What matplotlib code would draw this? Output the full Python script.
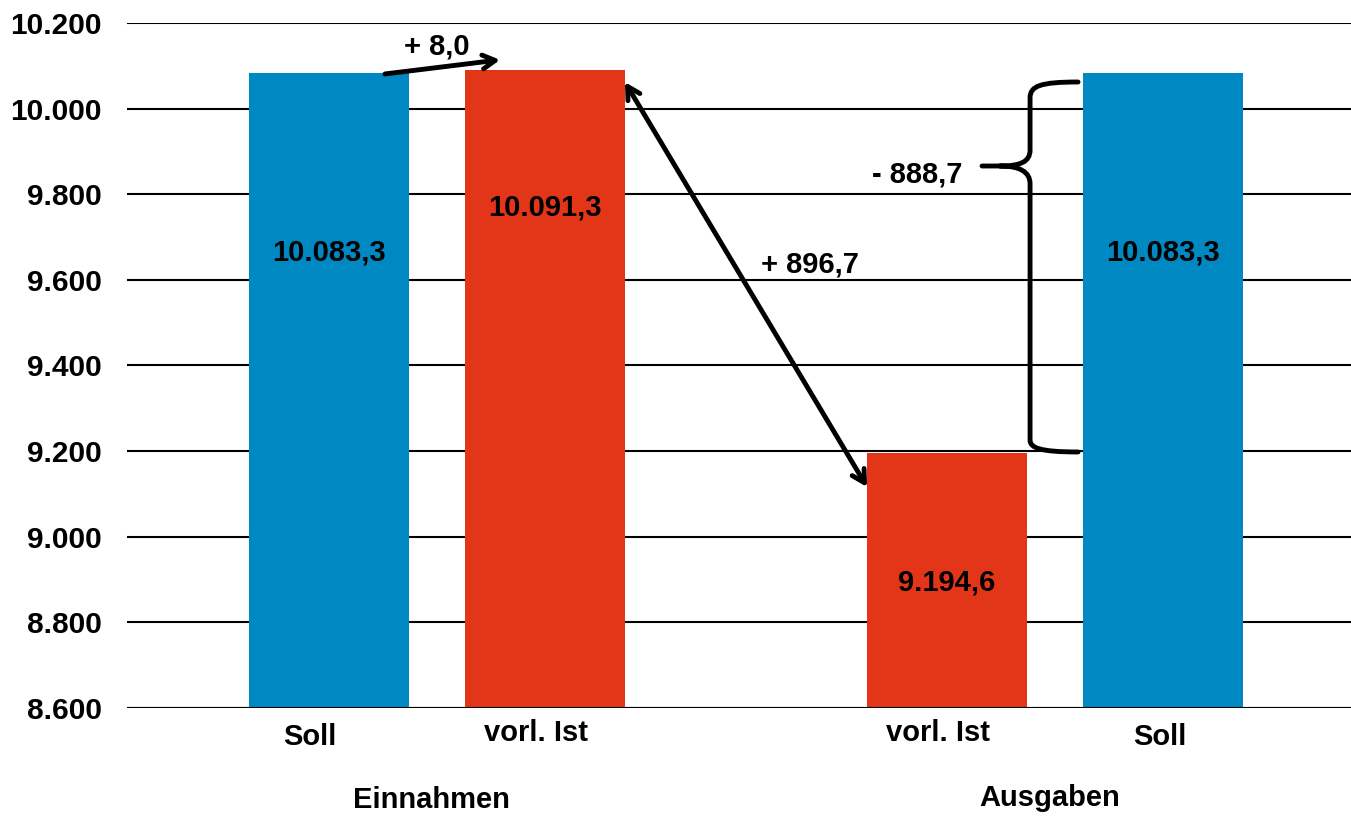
import matplotlib.pyplot as plt
import matplotlib.transforms as mtransforms
from matplotlib.path import Path
from matplotlib.patches import PathPatch
from matplotlib.ticker import FuncFormatter

plt.rcParams['font.family'] = ['Liberation Sans', 'DejaVu Sans']
plt.rcParams['font.weight'] = 'bold'

# data
bar_labels = ["Soll", "vorl. Ist", "vorl. Ist", "Soll"]
values = [10083.3, 10091.3, 9194.6, 10083.3]
value_texts = ["10.083,3", "10.091,3", "9.194,6", "10.083,3"]
groups = ["Einnahmen", "Ausgaben"]
diff_texts = ["+ 8,0", "+ 896,7", "- 888,7"]

blue = '#0088c2'
red = '#e33618'
colors = [blue, red, red, blue]
xpos = [0, 1, 2.861, 3.861]
label_y = [9665, 9770, 8894, 9665]
fs = 21

fig = plt.figure(figsize=(13.51, 8.16), dpi=100)
ax = fig.add_axes([0.094, 0.1324, 0.906, 0.8394])

ax.bar(xpos, [v - 8600 for v in values], bottom=8600, width=0.74, color=colors, zorder=2)
ax.set_xlim(-0.935, 4.731)
ax.set_ylim(8600, 10200)
ax.set_yticks(range(8600, 10201, 200))
ax.yaxis.set_major_formatter(FuncFormatter(lambda v, p: f"{int(v):,}".replace(",", ".")))
ax.tick_params(axis='y', length=0, pad=18, labelsize=21.5)
ax.set_xticks([])
ax.grid(axis='y', color='black', linewidth=1.5, zorder=1)
for s in ax.spines.values():
    s.set_visible(False)
ax.axhline(8600, color='black', linewidth=1.5, zorder=3)

for x, y, t in zip(xpos, label_y, value_texts):
    ax.text(x, y, t, ha='center', va='center', fontsize=fs, fontweight='bold', zorder=4)

# category labels below the axis
cat_dx = [-0.09, -0.04, -0.04, -0.015]
cat_fy = [0.0968, 0.1017, 0.1017, 0.0968]
trans = mtransforms.blended_transform_factory(ax.transData, fig.transFigure)
for x, dx, fy, t in zip(xpos, cat_dx, cat_fy, bar_labels):
    ax.text(x + dx, fy, t, ha='center', va='center', fontsize=fs, fontweight='bold', transform=trans)
fig.text(0.319, 0.0196, groups[0], ha='center', va='center', fontsize=fs, fontweight='bold')
fig.text(0.777, 0.022, groups[1], ha='center', va='center', fontsize=fs, fontweight='bold')

# + 8,0 arrow
ax.annotate("", xy=(0.792, 10114), xytext=(0.259, 10081),
            arrowprops=dict(arrowstyle='->,head_length=0.9,head_width=0.5', lw=3.5, color='black',
                            shrinkA=0, shrinkB=0), zorder=5)
ax.text(0.5, 10144, diff_texts[0], ha='center', va='center', fontsize=fs, fontweight='bold')

# + 896,7 double arrow
ax.annotate("", xy=(2.861 - 0.37, 9116), xytext=(1.37, 10062),
            arrowprops=dict(arrowstyle='<->,head_length=0.9,head_width=0.5', lw=3.5, color='black',
                            shrinkA=0, shrinkB=0), zorder=5)
ax.text(2.227, 9637, diff_texts[1], ha='center', va='center', fontsize=fs, fontweight='bold')

# brace for - 888,7
def px(x, y):
    return ((x - 329) / 216, 8600 + (708 - y) * 1600 / 685)

verts = [px(1078, 82), px(1040, 82), px(1030, 86), px(1030, 98),
         px(1030, 150),
         px(1030, 162), px(1020, 166), px(1000, 166),
         px(982, 166),
         px(1000, 166), px(1020, 166), px(1030, 172), px(1030, 184),
         px(1030, 440),
         px(1030, 448), px(1040, 452), px(1078, 452)]
codes = [Path.MOVETO, Path.CURVE4, Path.CURVE4, Path.CURVE4,
         Path.LINETO,
         Path.CURVE4, Path.CURVE4, Path.CURVE4,
         Path.LINETO,
         Path.MOVETO, Path.CURVE4, Path.CURVE4, Path.CURVE4,
         Path.LINETO,
         Path.CURVE4, Path.CURVE4, Path.CURVE4]
ax.add_patch(PathPatch(Path(verts, codes), fill=False, lw=3.5, edgecolor='black',
                       capstyle='round', joinstyle='round', zorder=5))
ax.text(2.722, 9845, diff_texts[2], ha='center', va='center', fontsize=fs, fontweight='bold')

fig.savefig('out.png', dpi=100)
